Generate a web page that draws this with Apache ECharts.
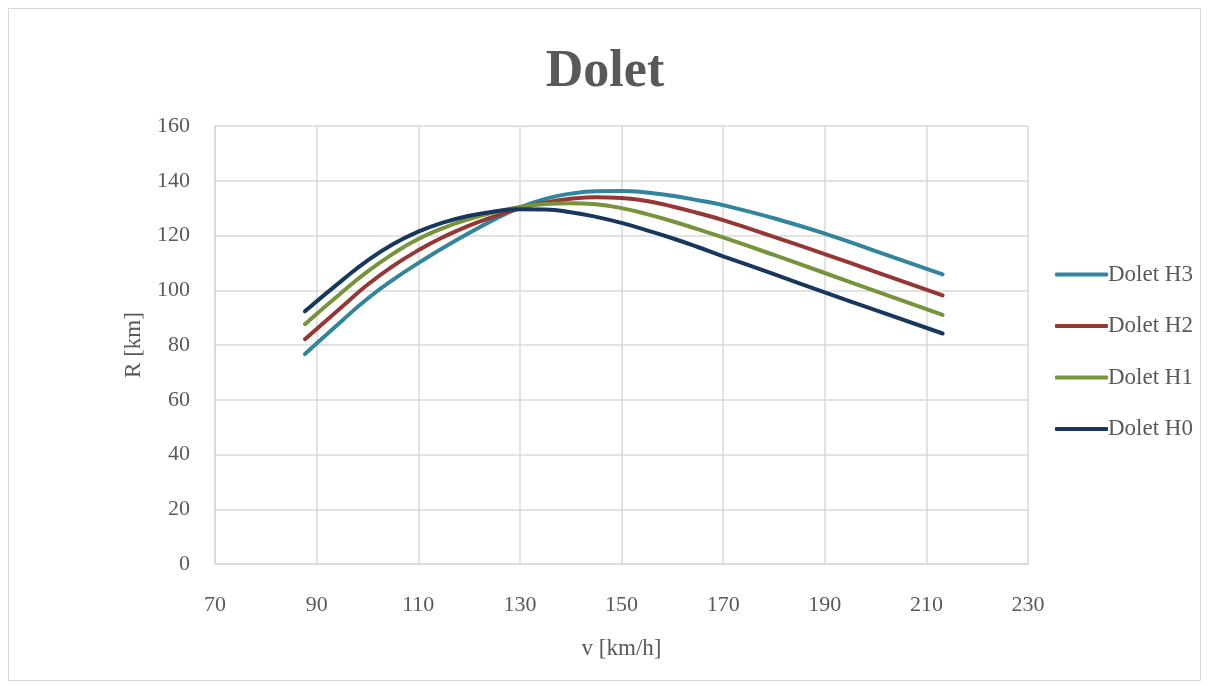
<!DOCTYPE html>
<html>
<head>
<meta charset="utf-8">
<title>Dolet</title>
<script src="https://cdn.jsdelivr.net/npm/echarts@6/dist/echarts.min.js"></script>
<style>
  html, body { margin: 0; padding: 0; background: #fff; }
  #chart { width: 1210px; height: 685px; }
</style>
</head>
<body>
<div id="chart"></div>
<script>
// speeds v [km/h]
const speeds = [87.7, 95, 100, 105, 110, 115, 120, 125, 130, 135, 140, 145, 150, 155, 160, 165, 170, 180, 190, 200, 213.2];
// range R [km] per variant
const doletH3 = [76.7, 88.9, 96.9, 103.8, 109.9, 115.6, 120.9, 125.9, 130.2, 133.4, 135.3, 136.2, 136.3, 135.7, 134.5, 132.9, 131.1, 126.3, 120.7, 114.3, 105.8];
const doletH2 = [82.1, 94.0, 102.0, 108.8, 114.6, 119.5, 123.6, 127.0, 129.9, 132.0, 133.4, 134.0, 133.7, 132.6, 130.6, 128.2, 125.6, 119.5, 113.2, 106.7, 98.1];
const doletH1 = [87.6, 99.3, 106.8, 113.3, 118.7, 122.8, 126.0, 128.5, 130.4, 131.5, 131.8, 131.4, 130.0, 127.8, 125.2, 122.3, 119.3, 112.9, 106.3, 99.7, 91.0];
const doletH0 = [92.3, 103.6, 110.8, 116.8, 121.4, 124.8, 127.2, 128.8, 129.6, 129.5, 128.5, 126.8, 124.6, 121.9, 119.0, 115.8, 112.4, 105.9, 99.2, 92.7, 84.2];

const names = ['Dolet H3', 'Dolet H2', 'Dolet H1', 'Dolet H0'];
const values = [doletH3, doletH2, doletH1, doletH0];
const colors = ['#31859c', '#953735', '#77933c', '#17375e'];

const font = '"Liberation Serif", "Times New Roman", serif';
const textColor = '#595959';

const chart = echarts.init(document.getElementById('chart'));

const option = {
  animation: false,
  title: {
    text: 'Dolet',
    left: 'center',
    top: 42,
    textStyle: { fontFamily: font, fontSize: 52, fontWeight: 'bold', color: textColor }
  },
  graphic: [{
    type: 'rect',
    shape: { x: 8.5, y: 8.5, width: 1192, height: 672 },
    style: { fill: 'none', stroke: '#d9d9d9', lineWidth: 1 },
    silent: true
  }],
  legend: {
    orient: 'vertical',
    left: 1050,
    top: 258,
    icon: 'roundRect',
    itemWidth: 53,
    itemHeight: 4,
    itemGap: 28.5,
    data: names,
    textStyle: { fontFamily: font, fontSize: 23, color: textColor, padding: [0, 0, 0, -5] }
  },
  grid: { left: 215, right: 182, top: 126, bottom: 121 },
  xAxis: {
    type: 'value',
    min: 70,
    max: 230,
    interval: 20,
    name: 'v [km/h]',
    nameLocation: 'middle',
    nameGap: 73,
    nameTextStyle: { fontFamily: font, fontSize: 23, color: textColor },
    axisLine: { show: true, lineStyle: { color: '#d9d9d9', width: 1.5 } },
    axisTick: { show: false },
    axisLabel: { margin: 30, fontFamily: font, fontSize: 22, color: textColor },
    splitLine: { show: true, lineStyle: { color: '#d9d9d9', width: 1.5 } }
  },
  yAxis: {
    type: 'value',
    min: 0,
    max: 160,
    interval: 20,
    name: 'R [km]',
    nameLocation: 'middle',
    nameGap: 70,
    nameTextStyle: { fontFamily: font, fontSize: 23, color: textColor },
    axisLine: { show: true, lineStyle: { color: '#d9d9d9', width: 1.5 } },
    axisTick: { show: false },
    axisLabel: { margin: 25, fontFamily: font, fontSize: 22, color: textColor },
    splitLine: { show: true, lineStyle: { color: '#d9d9d9', width: 1.5 } }
  },
  series: names.map((n, i) => ({
    name: n,
    type: 'line',
    smooth: true,
    symbol: 'none',
    z: 2 + i,
    data: speeds.map((v, j) => [v, values[i][j]]),
    lineStyle: { color: colors[i], width: 4, cap: 'round' },
    itemStyle: { color: colors[i] }
  }))
};

chart.setOption(option);
</script>
</body>
</html>
